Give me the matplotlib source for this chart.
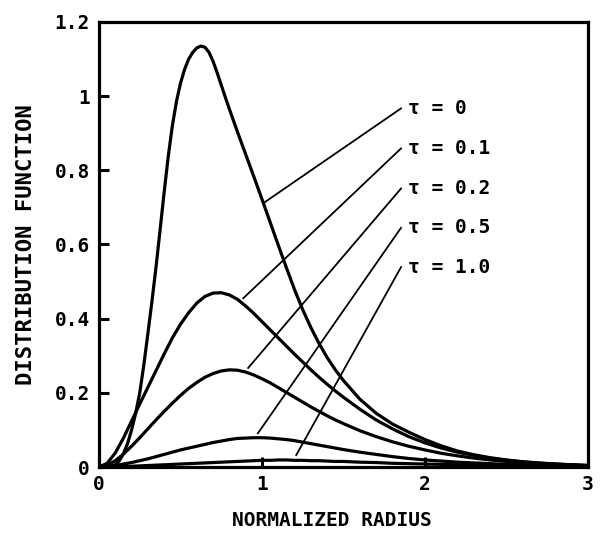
import matplotlib
matplotlib.use("Agg")
import matplotlib.pyplot as plt

# Normalized radius grid (finer sampling for the tall tau = 0 peak)
radius_tau_0 = [0.000, 0.025, 0.050, 0.075, 0.100, 0.125, 0.150, 0.175, 0.200, 0.225,
                0.250, 0.275, 0.300, 0.325, 0.350, 0.375, 0.400, 0.425, 0.450, 0.475,
                0.500, 0.525, 0.550, 0.575, 0.600, 0.625, 0.650, 0.675, 0.700, 0.725,
                0.750, 0.775, 0.800, 0.825, 0.850, 0.875, 0.900, 0.950, 1.000, 1.050,
                1.100, 1.150, 1.200, 1.250, 1.300, 1.350, 1.400, 1.450, 1.500, 1.600,
                1.700, 1.800, 1.900, 2.000, 2.100, 2.200, 2.300, 2.400, 2.500, 2.600,
                2.700, 2.800, 2.900, 3.000]
radius = [0.00, 0.05, 0.10, 0.15, 0.20, 0.25, 0.30, 0.35, 0.40, 0.45,
          0.50, 0.55, 0.60, 0.65, 0.70, 0.75, 0.80, 0.85, 0.90, 0.95,
          1.00, 1.05, 1.10, 1.15, 1.20, 1.25, 1.30, 1.35, 1.40, 1.45,
          1.50, 1.60, 1.70, 1.80, 1.90, 2.00, 2.10, 2.20, 2.30, 2.40,
          2.50, 2.60, 2.70, 2.80, 2.90, 3.00]

# Distribution function for each tau
f_tau_0 = [0.000, 0.000, 0.000, 0.002, 0.006, 0.017, 0.036, 0.063, 0.100, 0.145,
           0.200, 0.275, 0.360, 0.447, 0.540, 0.640, 0.742, 0.838, 0.920, 0.985,
           1.035, 1.072, 1.100, 1.118, 1.130, 1.135, 1.132, 1.118, 1.094, 1.063,
           1.030, 0.997, 0.965, 0.934, 0.903, 0.873, 0.843, 0.783, 0.722, 0.660,
           0.598, 0.537, 0.478, 0.424, 0.376, 0.333, 0.295, 0.262, 0.233, 0.183,
           0.145, 0.116, 0.094, 0.074, 0.057, 0.043, 0.033, 0.025, 0.019, 0.014,
           0.011, 0.008, 0.006, 0.004]
f_tau_01 = [0.000, 0.010, 0.038, 0.078, 0.124, 0.170, 0.215, 0.260, 0.305, 0.348,
            0.385, 0.416, 0.442, 0.460, 0.469, 0.470, 0.464, 0.452, 0.434, 0.414,
            0.392, 0.370, 0.348, 0.326, 0.304, 0.283, 0.262, 0.242, 0.223, 0.205,
            0.188, 0.156, 0.127, 0.103, 0.082, 0.065, 0.051, 0.040, 0.031, 0.024,
            0.018, 0.014, 0.010, 0.008, 0.006, 0.004]
f_tau_02 = [0.000, 0.005, 0.017, 0.035, 0.056, 0.079, 0.103, 0.127, 0.150, 0.172,
            0.193, 0.212, 0.228, 0.242, 0.252, 0.259, 0.262, 0.261, 0.256, 0.248,
            0.238, 0.227, 0.214, 0.201, 0.188, 0.175, 0.162, 0.150, 0.138, 0.127,
            0.117, 0.098, 0.082, 0.068, 0.056, 0.046, 0.037, 0.030, 0.024, 0.019,
            0.015, 0.012, 0.009, 0.007, 0.005, 0.004]
f_tau_05 = [0.000, 0.001, 0.004, 0.008, 0.012, 0.017, 0.022, 0.028, 0.034, 0.040,
            0.046, 0.051, 0.056, 0.061, 0.066, 0.070, 0.074, 0.077, 0.078, 0.079,
            0.079, 0.078, 0.076, 0.074, 0.071, 0.067, 0.063, 0.059, 0.055, 0.051,
            0.047, 0.040, 0.034, 0.028, 0.023, 0.019, 0.016, 0.013, 0.011, 0.009,
            0.007, 0.006, 0.005, 0.004, 0.003, 0.002]
f_tau_10 = [0.000, 0.000, 0.001, 0.001, 0.002, 0.003, 0.004, 0.005, 0.006, 0.007,
            0.008, 0.009, 0.010, 0.011, 0.012, 0.013, 0.014, 0.015, 0.016, 0.017,
            0.018, 0.018, 0.019, 0.019, 0.018, 0.018, 0.017, 0.017, 0.016, 0.015,
            0.015, 0.013, 0.012, 0.010, 0.009, 0.008, 0.007, 0.006, 0.005, 0.004,
            0.004, 0.003, 0.003, 0.002, 0.002, 0.001]

tau_labels = ["τ = 0", "τ = 0.1", "τ = 0.2", "τ = 0.5", "τ = 1.0"]

x_ticks = [0, 1, 2, 3]
x_tick_labels = ["0", "1", "2", "3"]
y_ticks = [0, 0.2, 0.4, 0.6, 0.8, 1.0, 1.2]
y_tick_labels = ["0", "0.2", "0.4", "0.6", "0.8", "1", "1.2"]

curves = [(radius_tau_0, f_tau_0), (radius, f_tau_01), (radius, f_tau_02),
          (radius, f_tau_05), (radius, f_tau_10)]

# where each leader touches its curve, and where its label sits
leader_curve_pts = [(1.01, 0.712), (0.885, 0.455), (0.915, 0.267),
                    (0.975, 0.091), (1.21, 0.032)]
label_y = [0.967, 0.859, 0.751, 0.645, 0.539]
leader_x_end = 1.853
label_x = 1.896

mono = dict(family="DejaVu Sans Mono", weight="bold")

fig = plt.figure(figsize=(6.04, 5.35), dpi=100)
ax = fig.add_axes([0.1639, 0.1271, 0.8096, 0.8318])

for xs, ys in curves:
    ax.plot(xs, ys, color="black", lw=2.3, solid_joinstyle="round",
            solid_capstyle="round")

for (xc, yc), ly, lab in zip(leader_curve_pts, label_y, tau_labels):
    ax.plot([xc, leader_x_end], [yc, ly], color="black", lw=1.3)
    ax.text(label_x, ly, lab, ha="left", va="center", fontsize=14,
            color="black", **mono)

ax.set_xlim(0, 3)
ax.set_ylim(0, 1.2)
ax.set_xticks(x_ticks)
ax.set_xticklabels(x_tick_labels)
ax.set_yticks(y_ticks)
ax.set_yticklabels(y_tick_labels)

ax.tick_params(axis="both", direction="in", length=7, width=2.2,
               top=False, right=False, labelsize=14)
ax.tick_params(axis="y", pad=6.5)
ax.tick_params(axis="x", pad=6)
for lbl in ax.get_xticklabels() + ax.get_yticklabels():
    lbl.set_fontfamily("DejaVu Sans Mono")
    lbl.set_fontweight("bold")

for sp in ax.spines.values():
    sp.set_linewidth(2.3)
    sp.set_color("black")

ax.set_xlabel("NORMALIZED RADIUS", fontsize=14, **mono)
ax.xaxis.label.set_verticalalignment("center")
ax.xaxis.set_label_coords(0.476, -0.121)
ax.set_ylabel("DISTRIBUTION FUNCTION", fontsize=16, **mono)
ax.yaxis.label.set_verticalalignment("center")
ax.yaxis.label.set_horizontalalignment("center")
ax.yaxis.set_label_coords(-0.150, 0.5)

fig.savefig("out.png", dpi=100, facecolor="white")
